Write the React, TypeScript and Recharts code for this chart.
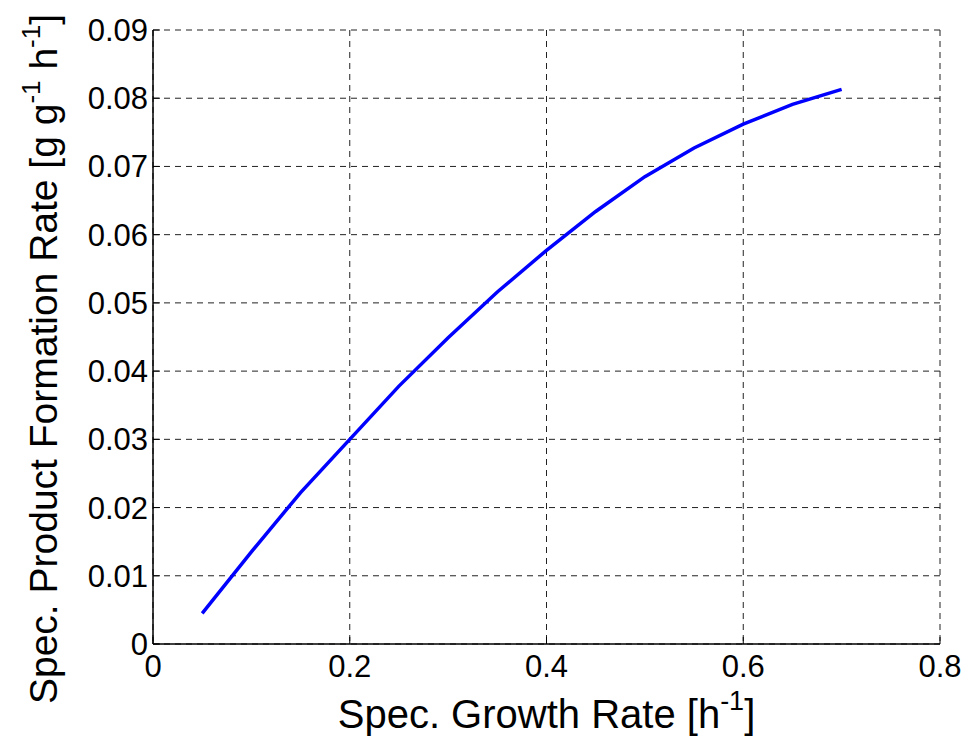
import React from 'react';
import { LineChart, Line, XAxis, YAxis, CartesianGrid } from 'recharts';

// specific growth rate [1/h] and specific product formation rate [g/g/h]
const growthRate = [0.05, 0.1, 0.15, 0.2, 0.25, 0.3, 0.35, 0.4, 0.45, 0.5, 0.55, 0.6, 0.65, 0.7];
const productRate = [0.0045, 0.0135, 0.0222, 0.03, 0.0378, 0.0449, 0.0516, 0.0577, 0.0634, 0.0685, 0.0727, 0.0762, 0.0791, 0.0813];

const xTicks = [0, 0.2, 0.4, 0.6, 0.8];
const yTicks = [0, 0.01, 0.02, 0.03, 0.04, 0.05, 0.06, 0.07, 0.08, 0.09];

const data = growthRate.map((mu, i) => ({ mu, qp: productRate[i] }));

const FONT = 'Liberation Sans, Arial, Helvetica, sans-serif';

const YTick = (props: any) => {
  const { x, y, payload } = props;
  return (
    <text x={x} y={y} dy={11} textAnchor="end" fontSize={31} fontFamily={FONT} fill="#000">
      {String(payload.value)}
    </text>
  );
};

const XTick = (props: any) => {
  const { x, y, payload } = props;
  return (
    <text x={x} y={y} textAnchor="middle" fontSize={31} fontFamily={FONT} fill="#000">
      {String(payload.value)}
    </text>
  );
};

const XTitle = (props: any) => {
  const { viewBox } = props;
  const cx = viewBox.x + viewBox.width / 2;
  return (
    <text x={cx} y={728} textAnchor="middle" fontSize={40} fontFamily={FONT} fill="#000">
      Spec. Growth Rate [h
      <tspan dy={-18} fontSize={27}>-1</tspan>
      <tspan dy={18}>]</tspan>
    </text>
  );
};

const YTitle = (props: any) => {
  const { viewBox } = props;
  const cx = 57;
  const cy = viewBox.y + viewBox.height / 2 + 22;
  return (
    <text
      x={cx}
      y={cy}
      transform={`rotate(-90, ${cx}, ${cy})`}
      textAnchor="middle"
      fontSize={39}
      fontFamily={FONT}
      fill="#000"
    >
      Spec. Product Formation Rate [g g
      <tspan dy={-17} fontSize={26}>-1</tspan>
      <tspan dy={17}> h</tspan>
      <tspan dy={-17} fontSize={26}>-1</tspan>
      <tspan dy={17}>]</tspan>
    </text>
  );
};

export default function App() {
  return (
    <div style={{ position: 'absolute', left: 0, top: 0, background: '#fff' }}>
      <LineChart width={964} height={736} data={data} margin={{ top: 30, right: 24, left: 0, bottom: 0 }}>
        <CartesianGrid xAxisId="bottom" yAxisId="left" stroke="#222" strokeDasharray="6 5" strokeWidth={1} />
        <XAxis
          xAxisId="bottom"
          dataKey="mu"
          type="number"
          domain={[0, 0.8]}
          ticks={xTicks}
          height={92}
          axisLine={{ stroke: '#000', strokeWidth: 1.5 }}
          tickLine={{ stroke: '#000', strokeWidth: 1 }}
          tickSize={-7}
          tickMargin={40}
          tick={<XTick />}
          label={<XTitle />}
        />
        <XAxis
          xAxisId="top"
          orientation="top"
          dataKey="mu"
          type="number"
          domain={[0, 0.8]}
          ticks={xTicks}
          height={0}
          axisLine={{ stroke: '#000', strokeWidth: 1.5 }}
          tickLine={{ stroke: '#000', strokeWidth: 1 }}
          tickSize={-7}
          tick={false}
        />
        <YAxis
          yAxisId="left"
          type="number"
          domain={[0, 0.09]}
          ticks={yTicks}
          width={153}
          axisLine={{ stroke: '#000', strokeWidth: 1.5 }}
          tickLine={{ stroke: '#000', strokeWidth: 1 }}
          tickSize={-7}
          tickMargin={12}
          tick={<YTick />}
          label={<YTitle />}
        />
        <YAxis
          yAxisId="right"
          orientation="right"
          type="number"
          domain={[0, 0.09]}
          ticks={yTicks}
          width={0}
          axisLine={{ stroke: '#000', strokeWidth: 1.5 }}
          tickLine={{ stroke: '#000', strokeWidth: 1 }}
          tickSize={-7}
          tick={false}
        />
        <Line
          xAxisId="bottom"
          yAxisId="left"
          type="linear"
          dataKey="qp"
          stroke="#0000ff"
          strokeWidth={3.5}
          dot={false}
          isAnimationActive={false}
        />
      </LineChart>
    </div>
  );
}
